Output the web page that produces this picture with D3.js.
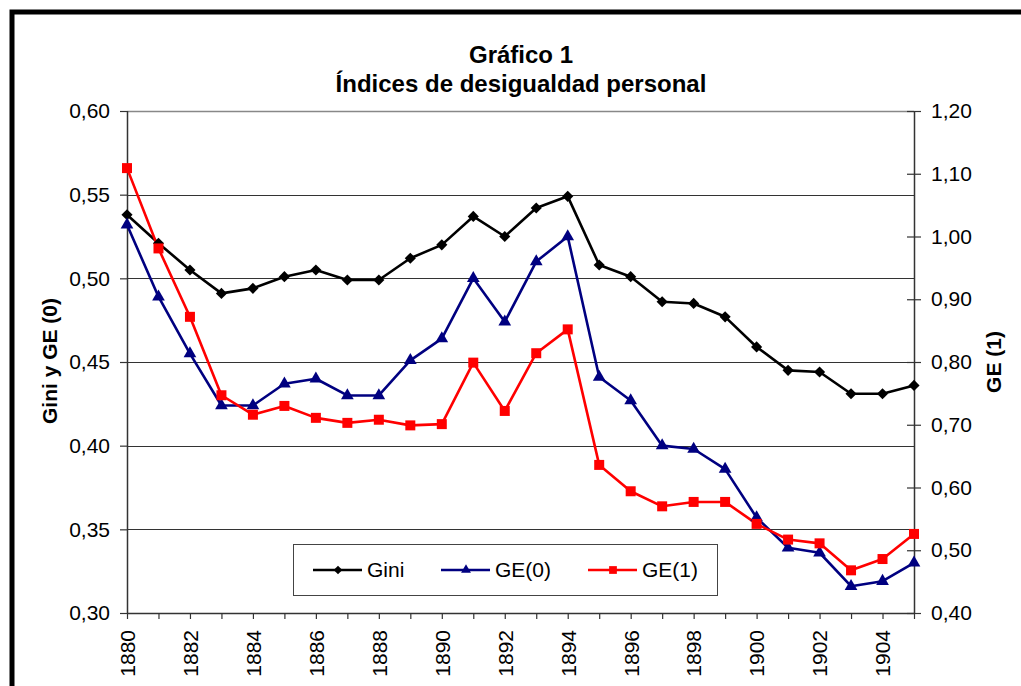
<!DOCTYPE html>
<html><head><meta charset="utf-8">
<script src="https://cdn.jsdelivr.net/npm/d3@7"></script>
<style>body{margin:0;background:#fff}svg{display:block}text{font-family:"Liberation Sans",Arial,sans-serif}</style>
</head><body><svg id="c" width="1021" height="686"></svg>
<script>
const years = d3.range(1880, 1906);
const gini = [0.538,0.521,0.505,0.491,0.494,0.501,0.505,0.499,0.499,0.512,0.520,0.537,0.525,0.542,0.549,0.508,0.501,0.486,0.485,0.477,0.459,0.445,0.444,0.431,0.431,0.436];
const ge0  = [0.532,0.489,0.455,0.424,0.424,0.437,0.440,0.430,0.430,0.451,0.464,0.500,0.474,0.510,0.525,0.441,0.427,0.400,0.398,0.386,0.357,0.339,0.336,0.316,0.319,0.330];
const ge1  = [1.109,0.981,0.872,0.747,0.716,0.730,0.711,0.703,0.708,0.699,0.701,0.799,0.722,0.814,0.852,0.636,0.594,0.570,0.577,0.577,0.542,0.517,0.511,0.468,0.486,0.526];
const leftTicks = [0.30,0.35,0.40,0.45,0.50,0.55,0.60];
const rightTicks = [0.40,0.50,0.60,0.70,0.80,0.90,1.00,1.10,1.20];
const xLabelYears = d3.range(1880, 1906, 2);
const seriesNames = ["Gini","GE(0)","GE(1)"];
const titleLines = ["Gráfico 1","Índices de desigualdad personal"];

const svg = d3.select("#c");
const L=127,R=914,T=111,B=613;
const FS=21;
const fmt = v => d3.format(".2f")(v).replace(".", ",");
const x = d3.scaleLinear().domain([1880,1905]).range([L,R]);
const yL = d3.scaleLinear().domain([0.30,0.60]).range([B,T]);
const yR = d3.scaleLinear().domain([0.40,1.20]).range([B,T]);

// frame
svg.append("rect").attr("x",12).attr("y",12).attr("width",1200).attr("height",900)
  .attr("fill","none").attr("stroke","#000").attr("stroke-width",5);

// title
svg.append("text").attr("x",521).attr("y",63).attr("text-anchor","middle")
  .attr("font-size",24).attr("font-weight","bold").text(titleLines[0]);
svg.append("text").attr("x",521).attr("y",92).attr("text-anchor","middle")
  .attr("font-size",24).attr("font-weight","bold").text(titleLines[1]);

// gridlines
svg.append("g").selectAll("line").data(leftTicks.slice(1,-1)).join("line")
  .attr("x1",L).attr("x2",R).attr("y1",d=>Math.round(yL(d))+0.5).attr("y2",d=>Math.round(yL(d))+0.5)
  .attr("stroke","#333").attr("stroke-width",1);
svg.append("line").attr("x1",L).attr("x2",R).attr("y1",T+0.5).attr("y2",T+0.5)
  .attr("stroke","#888").attr("stroke-width",1.5);

// left axis
const gl = svg.append("g").attr("transform",`translate(${L},0)`)
  .call(d3.axisLeft(yL).tickValues(leftTicks).tickFormat(fmt).tickSize(7).tickPadding(10));
// right axis
const gr = svg.append("g").attr("transform",`translate(${R},0)`)
  .call(d3.axisRight(yR).tickValues(rightTicks).tickFormat(fmt).tickSize(7).tickPadding(10));
gr.selectAll(".tick line").attr("x1",-7);
// bottom axis
const gb = svg.append("g").attr("transform",`translate(0,${B})`)
  .call(d3.axisBottom(x).tickValues(years).tickFormat(d=> xLabelYears.includes(d)? String(d):"").tickSize(6).tickPadding(8));
gb.selectAll("text").attr("transform","rotate(-90)").attr("text-anchor","end")
  .attr("x",-17).attr("y",0).attr("dy","0.35em");
[gl,gr,gb].forEach(g=>{
  g.select(".domain").attr("stroke","#333").attr("stroke-width",1.5);
  g.selectAll(".tick line").attr("stroke","#333").attr("stroke-width",1.2);
  g.selectAll("text").attr("font-size",FS).attr("fill","#000").attr("font-family","Liberation Sans, Arial, sans-serif");
});
gb.select(".domain").attr("d",`M${L},0.5H${R}`);
gl.select(".domain").attr("d",`M0.5,${T}V${B}`);
gr.select(".domain").attr("d",`M0.5,${T}V${B}`);

// axis titles
svg.append("text").attr("transform","translate(57,361) rotate(-90)").attr("text-anchor","middle")
  .attr("font-size",FS).attr("font-weight","bold").text("Gini y GE (0)");
svg.append("text").attr("transform","translate(1001,362) rotate(-90)").attr("text-anchor","middle")
  .attr("font-size",FS).attr("font-weight","bold").text("GE (1)");

// series
const diamond = {draw(ctx,size){const r=Math.sqrt(size/2);ctx.moveTo(0,-r);ctx.lineTo(r,0);ctx.lineTo(0,r);ctx.lineTo(-r,0);ctx.closePath();}};
const series = [
  {name:seriesNames[0], vals:gini, y:yL, color:"#000", shape:diamond, size:62},
  {name:seriesNames[1], vals:ge0, y:yL, color:"#000080", shape:d3.symbolTriangle, size:70},
  {name:seriesNames[2], vals:ge1, y:yR, color:"#ff0000", shape:d3.symbolSquare, size:100}
];
const line = (s)=> d3.line().x((d,i)=>x(years[i])).y(d=>s.y(d));
series.forEach(s=>{
  svg.append("path").datum(s.vals).attr("d",line(s)).attr("fill","none")
    .attr("stroke",s.color).attr("stroke-width",2.6).attr("stroke-linejoin","round");
});
series.forEach(s=>{
  svg.append("g").selectAll("path").data(s.vals).join("path")
    .attr("transform",(d,i)=>`translate(${x(years[i])},${s.y(d)})`)
    .attr("d",d3.symbol().type(s.shape).size(s.size)).attr("fill",s.color);
});

// legend
const lg = svg.append("g");
lg.append("rect").attr("x",293.5).attr("y",544.5).attr("width",424).attr("height",51)
  .attr("fill","#fff").attr("stroke","#444").attr("stroke-width",1);
const lx = [313,441,588];
series.forEach((s,i)=>{
  lg.append("line").attr("x1",lx[i]).attr("x2",lx[i]+49).attr("y1",570).attr("y2",570)
    .attr("stroke",s.color).attr("stroke-width",2.6);
  lg.append("path").attr("transform",`translate(${lx[i]+25},570)`)
    .attr("d",d3.symbol().type(s.shape).size(s.size*0.6)).attr("fill",s.color);
  lg.append("text").attr("x",lx[i]+54).attr("y",577).attr("font-size",FS).text(s.name);
});
</script></body></html>
